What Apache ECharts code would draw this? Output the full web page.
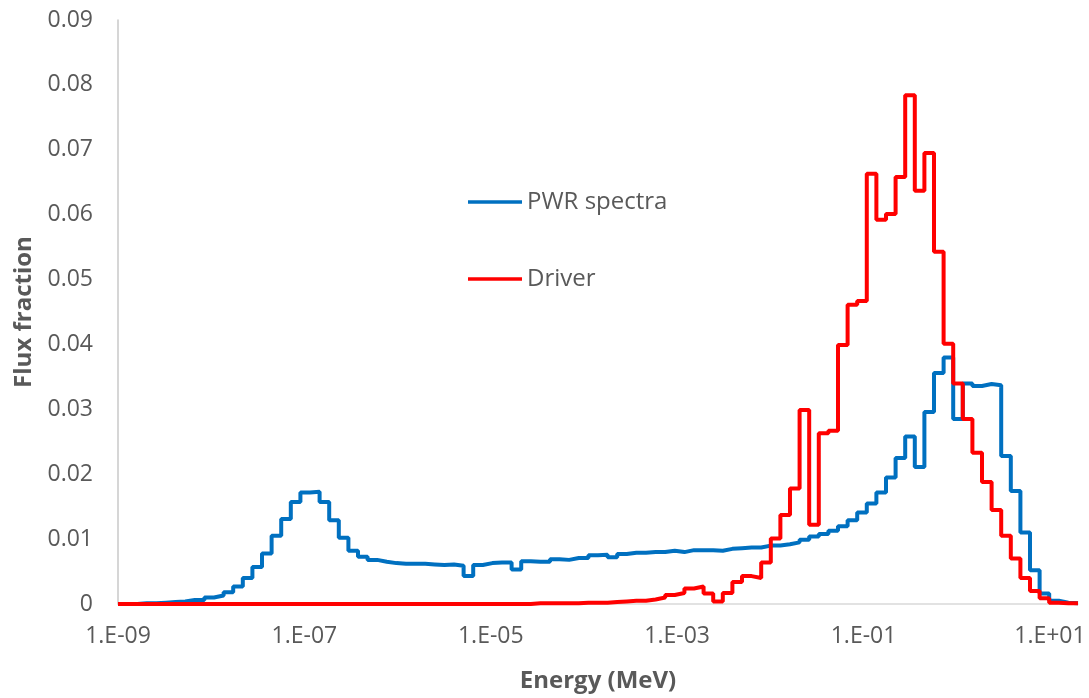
<!DOCTYPE html>
<html>
<head>
<meta charset="utf-8">
<title>Flux fraction</title>
<script src="https://cdn.jsdelivr.net/npm/echarts@6/dist/echarts.min.js"></script>
<style>
  html, body { margin: 0; padding: 0; background: #fff; }
  #chart { width: 1089px; height: 698px; }
</style>
</head>
<body>
<div id="chart"></div>
<script>
// group boundaries (MeV), 100 groups from 1e-9 to 20 MeV
var energyEdges = [
  1.000e-9, 1.268e-9, 1.607e-9, 2.038e-9, 2.583e-9, 3.274e-9, 4.151e-9, 5.262e-9, 6.671e-9, 8.456e-9,
  1.072e-8, 1.359e-8, 1.722e-8, 2.184e-8, 2.768e-8, 3.509e-8, 4.449e-8, 5.640e-8, 7.149e-8, 9.063e-8,
  1.149e-7, 1.456e-7, 1.846e-7, 2.340e-7, 2.967e-7, 3.761e-7, 4.768e-7, 6.044e-7, 7.662e-7, 9.712e-7,
  1.231e-6, 1.561e-6, 1.979e-6, 2.508e-6, 3.180e-6, 4.031e-6, 5.110e-6, 6.478e-6, 8.211e-6, 1.041e-5,
  1.320e-5, 1.673e-5, 2.121e-5, 2.689e-5, 3.408e-5, 4.321e-5, 5.477e-5, 6.943e-5, 8.801e-5, 1.116e-4,
  1.414e-4, 1.793e-4, 2.273e-4, 2.881e-4, 3.652e-4, 4.630e-4, 5.869e-4, 7.440e-4, 9.431e-4, 1.196e-3,
  1.516e-3, 1.921e-3, 2.436e-3, 3.088e-3, 3.914e-3, 4.962e-3, 6.290e-3, 7.973e-3, 1.011e-2, 1.281e-2,
  1.624e-2, 2.059e-2, 2.610e-2, 3.309e-2, 4.195e-2, 5.318e-2, 6.743e-2, 8.547e-2, 1.083e-1, 1.373e-1,
  1.741e-1, 2.207e-1, 2.798e-1, 3.547e-1, 4.496e-1, 5.700e-1, 7.226e-1, 9.160e-1, 1.161, 1.472,
  1.866, 2.366, 2.999, 3.802, 4.820, 6.110, 7.745, 9.817, 12.45, 15.78,
  20.00
];

// x tick labels (MeV)
var xTickValues = [1e-9, 1e-7, 1e-5, 1e-3, 1e-1, 1e1];

// flux fraction per group, PWR spectrum
var pwrFlux = [
  0.0000, 0.0000, 0.0001, 0.0001, 0.0002, 0.0003, 0.0004, 0.0006, 0.0006, 0.0010,
  0.0013, 0.0018, 0.0027, 0.0040, 0.0057, 0.0078, 0.0105, 0.0131, 0.0157, 0.0172,
  0.0173, 0.0157, 0.0129, 0.0102, 0.0082, 0.0073, 0.0068, 0.0065, 0.0063, 0.0062,
  0.0062, 0.0062, 0.0061, 0.0060, 0.0061, 0.0059, 0.0043, 0.0060, 0.0063, 0.0064,
  0.0064, 0.0053, 0.0066, 0.0065, 0.0065, 0.0069, 0.0068, 0.0071, 0.0071, 0.0075,
  0.0076, 0.0072, 0.0077, 0.0079, 0.0079, 0.0080, 0.0080, 0.0082, 0.0080, 0.0083,
  0.0083, 0.0083, 0.0082, 0.0085, 0.0086, 0.0087, 0.0087, 0.0090, 0.0090, 0.0092,
  0.0095, 0.0099, 0.0104, 0.0108, 0.0113, 0.0120, 0.0129, 0.0141, 0.0155, 0.0172,
  0.0195, 0.0225, 0.0258, 0.0211, 0.0296, 0.0356, 0.0380, 0.0285, 0.0340, 0.0336,
  0.0339, 0.0337, 0.0228, 0.0174, 0.0110, 0.0052, 0.0016, 0.0005, 0.0002, 0.0001
];

// flux fraction per group, driver
var driverFlux = [
  0.0000, 0.0000, 0.0000, 0.0000, 0.0000, 0.0000, 0.0000, 0.0000, 0.0000, 0.0000,
  0.0000, 0.0000, 0.0000, 0.0000, 0.0000, 0.0000, 0.0000, 0.0000, 0.0000, 0.0000,
  0.0000, 0.0000, 0.0000, 0.0000, 0.0000, 0.0000, 0.0000, 0.0000, 0.0000, 0.0000,
  0.0000, 0.0000, 0.0000, 0.0000, 0.0000, 0.0000, 0.0000, 0.0000, 0.0000, 0.0000,
  0.0000, 0.0000, 0.0000, 0.0001, 0.0001, 0.0001, 0.0001, 0.0001, 0.0002, 0.0002,
  0.0002, 0.0003, 0.0004, 0.0005, 0.0005, 0.0007, 0.0010, 0.0014, 0.0017, 0.0024,
  0.0027, 0.0016, 0.0004, 0.0017, 0.0034, 0.0043, 0.0040, 0.0064, 0.0101, 0.0137,
  0.0178, 0.0299, 0.0122, 0.0263, 0.0267, 0.0399, 0.0461, 0.0467, 0.0663, 0.0592,
  0.0601, 0.0658, 0.0784, 0.0637, 0.0695, 0.0543, 0.0401, 0.0340, 0.0285, 0.0233,
  0.0188, 0.0145, 0.0105, 0.0070, 0.0040, 0.0020, 0.0009, 0.0002, 0.0001, 0.0001
];

var seriesNames = ['PWR spectra', 'Driver'];
var seriesColors = ['#0070C0', '#FF0000'];

// histogram -> step points (lower edge, value) + closing upper edge
function toSteps(values) {
  var pts = [];
  for (var i = 0; i < values.length; i++) {
    pts.push([energyEdges[i], values[i]]);
  }
  pts.push([energyEdges[values.length], values[values.length - 1]]);
  return pts;
}

// 1e-7 -> "1.E-07" (Excel style)
function expLabel(val) {
  var e = Math.round(Math.log10(val));
  var s = e < 0 ? '-' : '+';
  var a = Math.abs(e);
  return '1.E' + s + (a < 10 ? '0' + a : a);
}

var chart = echarts.init(document.getElementById('chart'));
var txt = '#595959';
var font = '"Open Sans", "Noto Sans", sans-serif';

chart.setOption({
  animation: false,
  backgroundColor: '#ffffff',
  textStyle: { fontFamily: font },
  grid: { left: 118, right: 11, top: 20, bottom: 94, containLabel: false, outerBoundsMode: 'none' },
  legend: {
    orient: 'vertical',
    left: 463,
    top: 185,
    icon: 'rect',
    itemWidth: 54,
    itemHeight: 3.5,
    itemGap: 53,
    textStyle: { color: txt, fontSize: 24, lineHeight: 24, fontFamily: font },
    data: seriesNames
  },
  xAxis: {
    type: 'log',
    logBase: 10,
    min: 1e-9,
    max: 20,
    name: 'Energy (MeV)',
    nameLocation: 'middle',
    nameGap: 65,
    nameTextStyle: { color: txt, fontSize: 24, fontWeight: 'bold', fontFamily: font },
    axisLine: { show: true, lineStyle: { color: '#D9D9D9', width: 1.5 } },
    axisTick: { show: false },
    splitLine: { show: false },
    axisLabel: {
      color: txt, fontSize: 23, margin: 21, fontFamily: font,
      customValues: xTickValues,
      formatter: expLabel
    }
  },
  yAxis: {
    type: 'value',
    min: 0,
    max: 0.09,
    interval: 0.01,
    name: 'Flux fraction',
    nameLocation: 'middle',
    nameGap: 73,
    nameTextStyle: { color: txt, fontSize: 24, fontWeight: 'bold', fontFamily: font },
    axisLine: { show: true, lineStyle: { color: '#C8C8C8', width: 1.5 } },
    axisTick: { show: false },
    splitLine: { show: false },
    axisLabel: {
      color: txt, fontSize: 23, margin: 25, fontFamily: font,
      formatter: function (v) { return v === 0 ? '0' : v.toFixed(2); }
    }
  },
  series: [
    {
      name: seriesNames[0],
      type: 'line',
      step: 'end',
      symbol: 'none',
      color: seriesColors[0],
      lineStyle: { color: seriesColors[0], width: 4 },
      data: toSteps(pwrFlux)
    },
    {
      name: seriesNames[1],
      type: 'line',
      step: 'end',
      symbol: 'none',
      color: seriesColors[1],
      lineStyle: { color: seriesColors[1], width: 4 },
      data: toSteps(driverFlux)
    }
  ]
});

window.addEventListener('resize', function () { chart.resize(); });
</script>
</body>
</html>
